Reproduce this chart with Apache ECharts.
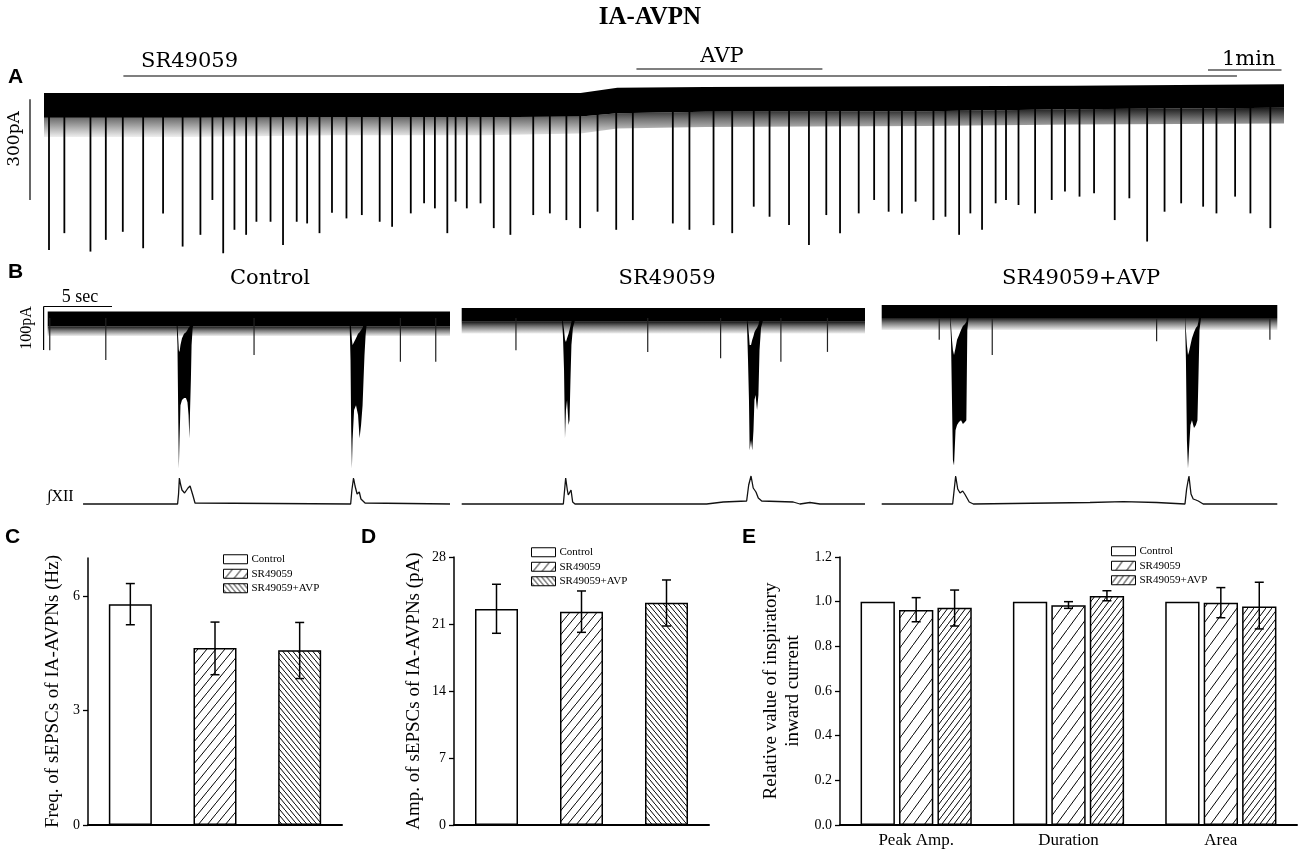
<!DOCTYPE html>
<html>
<head>
<meta charset="UTF-8">
<title>IA-AVPN</title>
<script src="https://cdn.jsdelivr.net/npm/echarts@6/dist/echarts.min.js"></script>
<style>body{margin:0;background:#fff;}</style>
</head>
<body>
<div id="main" style="width:1300px;height:855px;"></div>
<script type="text/javascript">
// ---- A: long recording (time in min, current in pA) ----
var traceLenA = 16.87;
var spikeT = [0.068,0.277,0.632,0.841,1.072,1.349,1.620,1.886,2.128,2.291,2.438,2.591,2.750,2.890,3.082,3.252,3.438,3.580,3.748,3.918,
  4.115,4.324,4.567,4.736,4.990,5.171,5.318,5.487,5.600,5.752,5.939,6.119,6.345,6.656,6.882,7.107,7.294,7.531,7.785,8.011,
  8.555,8.781,9.109,9.363,9.656,9.871,10.136,10.407,10.643,10.830,11.084,11.294,11.491,11.672,11.858,12.101,12.264,12.450,12.603,12.762,
  12.947,13.088,13.258,13.484,13.710,13.890,14.088,14.286,14.567,14.766,15.008,15.245,15.471,15.770,15.951,16.205,16.413,16.684];
var spikeAmp = [-432,-382,-437,-402,-378,-427,-323,-422,-387,-283,-442,-372,-387,-348,-348,-417,-348,-353,-382,-321,
  -338,-328,-348,-363,-323,-293,-308,-382,-288,-308,-293,-367,-387,-328,-323,-343,-367,-318,-372,-343,
  -353,-372,-358,-382,-303,-333,-358,-417,-328,-382,-323,-283,-318,-323,-288,-343,-333,-387,-323,-372,
  -293,-283,-298,-323,-283,-258,-273,-263,-343,-278,-407,-318,-293,-303,-323,-273,-323,-367];
var bandT = [0, 2, 4, 6, 7.3, 7.8, 9, 12, 14, 16.87];
var bandHi = [36, 36, 36, 36, 36, 52, 54, 56, 58, 62];
var bandLo = [-38, -38, -36, -36, -34, -24, -20, -18, -12, -8];
var fringeLo = [-95, -95, -90, -90, -85, -70, -65, -62, -58, -55];
var drugNames = ['SR49059', 'AVP'];
var drugStart = [1.08, 8.06];
var drugEnd = [16.23, 10.59];

// ---- B: 30 s sweeps (time in s, current in pA, integrated XII in a.u.) ----
var bTraceLen = [29.36, 29.44, 28.88];
var ctlBandHi = 15, ctlBandLo = -20, ctlFringe = -42;
var srBandHi = 23, srBandLo = -9, srFringe = -36;
var avpBandHi = 30, avpBandLo = 0, avpFringe = -28;

var ctlBurst1T = [9.40,9.47,9.53,9.57,9.62,9.69,9.80,9.95,10.09,10.20,10.28,10.34,10.39,10.45,10.50,10.58,10.75];
var ctlBurst1Top = [0,-16,-51,-75,-79,-63,-47,-37,-33,-28,-23,-21,-16,-9,0,0,0];
var ctlBurst1Bot = [-5,-63,-238,-350,-284,-203,-191,-186,-186,-196,-226,-280,-214,-144,-63,-23,-5];
var ctlBurst2T = [22.03,22.10,22.15,22.20,22.25,22.36,22.50,22.65,22.76,22.87,22.98,23.05,23.12,23.20,23.31];
var ctlBurst2Top = [0,-9,-28,-51,-63,-56,-47,-37,-33,-28,-23,-16,-9,0,0];
var ctlBurst2Bot = [-5,-98,-261,-350,-284,-214,-203,-226,-280,-249,-203,-144,-86,-40,-5];
var ctlXiiT = [2.58,9.48,9.55,9.61,9.69,9.80,9.99,10.09,10.24,10.39,10.51,10.61,10.75,22.11,22.20,22.32,22.43,22.58,22.74,22.86,23.16,29.36];
var ctlXiiV = [0,0,10,26,20,14,11,13,16,18,20,8,1,0,14,26,18,10,12,5,1,0];
var ctlEvT = [0.15, 4.24, 15.06, 25.74, 28.32];
var ctlEvI = [-75, -98, -86, -102, -102];

var srBurst1T = [7.32,7.39,7.47,7.54,7.61,7.69,7.80,7.87,7.94,8.01,8.12,8.27];
var srBurst1Top = [0,-9,-28,-51,-56,-47,-37,-28,-19,-9,5,5];
var srBurst1Bot = [-5,-40,-121,-280,-214,-191,-249,-238,-144,-63,-23,-5];
var srBurst2T = [20.82,20.90,20.97,21.02,21.12,21.21,21.30,21.37,21.45,21.56,21.66,21.74,21.85,22.00];
var srBurst2Top = [0,-16,-40,-63,-63,-51,-42,-33,-28,-23,-16,-5,5,5];
var srBurst2Bot = [-9,-98,-191,-308,-284,-308,-261,-191,-179,-214,-179,-75,-23,-5];
var srXiiT = [0,7.42,7.59,7.71,7.78,7.98,8.10,8.27,17.88,19.09,20.80,20.95,21.12,21.28,21.48,21.65,21.90,24.20,24.69,25.42,26.15,29.44];
var srXiiV = [0,0,26,14,9,14,2,0,0,2,3,19,28,16,12,6,3,2,0,1.5,0,0];
var srEvT = [3.96, 13.58, 18.90, 23.30, 26.70];
var srEvI = [-75, -79, -94, -102, -79];

var avpBurst1T = [4.99,5.06,5.13,5.20,5.28,5.39,5.50,5.64,5.79,5.93,6.08,6.18,6.25,6.34];
var avpBurst1Top = [7,-16,-51,-75,-86,-70,-51,-40,-28,-19,-14,-9,7,7];
var avpBurst1Bot = [0,-51,-191,-331,-343,-261,-249,-242,-238,-247,-242,-238,-28,0];
var avpBurst2T = [22.14,22.21,22.28,22.36,22.43,22.54,22.65,22.80,22.94,23.05,23.12,23.20,23.31];
var avpBurst2Top = [7,-28,-63,-86,-79,-63,-47,-33,-23,-19,-9,7,7];
var avpBurst2Bot = [0,-98,-284,-350,-308,-249,-238,-256,-249,-238,-144,-28,0];
var avpXiiT = [0,5.18,5.40,5.55,5.72,5.91,6.06,6.20,6.39,6.69,15.20,17.64,20.07,22.14,22.26,22.43,22.58,22.74,22.94,23.11,23.47,28.88];
var avpXiiV = [0,0,28,15,11,13,10,11,2,0,1.5,2.3,1.5,0,15,28,10,5,4,3,0,0];
var avpEvT = [4.20, 8.07, 20.07, 28.34];
var avpEvI = [-51, -86, -54, -51];

// ---- C, D, E: group means with error bars ----
var groups = ['Control', 'SR49059', 'SR49059+AVP'];
var cVal = [5.79, 4.64, 4.58];
var cLo = [5.25, 3.94, 3.84];
var cHi = [6.33, 5.32, 5.31];
var dVal = [22.57, 22.29, 23.23];
var dLo = [20.03, 20.13, 20.79];
var dHi = [25.15, 24.45, 25.60];
var eCats = ['Peak Amp.', 'Duration', 'Area'];
var eControl = [1.0, 1.0, 1.0];
var eSR = [0.963, 0.984, 0.995];
var eSRlo = [0.910, 0.970, 0.928];
var eSRhi = [1.018, 1.000, 1.063];
var eAVP = [0.973, 1.025, 0.978];
var eAVPlo = [0.891, 1.004, 0.878];
var eAVPhi = [1.052, 1.049, 1.087];

// hatch tiles
function hatch(w, h, forward, lw) {
  var c = document.createElement('canvas');
  c.width = w; c.height = h;
  var g = c.getContext('2d');
  g.fillStyle = '#fff'; g.fillRect(0, 0, w, h);
  g.strokeStyle = '#000'; g.lineWidth = lw;
  g.beginPath();
  for (var k = -1; k <= 1; k++) {
    if (forward) { g.moveTo(0, h + k * h); g.lineTo(w, k * h); }
    else { g.moveTo(0, k * h); g.lineTo(w, h + k * h); }
  }
  g.stroke();
  return { image: c, repeat: 'repeat' };
}
var patSR = hatch(9, 11, true, 1);
var patAVP = hatch(5, 6, false, 1);
var patSRe = hatch(11, 15, true, 1);
var patAVPe = hatch(6, 8, true, 1);

var serif = 'Liberation Serif';
function fade() {
  return new echarts.graphic.LinearGradient(0, 0, 0, 1, [
    { offset: 0, color: '#1a1a1a' }, { offset: 0.4, color: '#777' }, { offset: 1, color: '#eee' }]);
}

function bandSeries(gi, ts, lo, hi, fill, z) {
  return {
    type: 'custom', xAxisIndex: gi, yAxisIndex: gi, silent: true, z: z,
    data: [[ts[0], lo[0]]],
    renderItem: function (p, api) {
      var pts = [];
      for (var i = 0; i < ts.length; i++) pts.push(api.coord([ts[i], hi[i]]));
      for (var j = ts.length - 1; j >= 0; j--) pts.push(api.coord([ts[j], lo[j]]));
      return { type: 'polygon', shape: { points: pts }, style: { fill: fill } };
    }
  };
}
function spikeSeries(gi, ts, amps, w, color) {
  return {
    type: 'custom', xAxisIndex: gi, yAxisIndex: gi, silent: true, z: 3,
    data: ts.map(function (t, i) { return [t, amps[i]]; }),
    renderItem: function (p, api) {
      var a = api.coord([api.value(0), 0]);
      var b = api.coord([api.value(0), api.value(1)]);
      return { type: 'line', shape: { x1: a[0], y1: a[1], x2: b[0], y2: b[1] }, style: { stroke: color, lineWidth: w } };
    }
  };
}
function xiiSeries(gi, ts, vs) {
  return {
    type: 'line', xAxisIndex: gi, yAxisIndex: gi, symbol: 'none', silent: true,
    data: ts.map(function (t, i) { return [t, vs[i]]; }),
    lineStyle: { color: '#111', width: 1.3 }
  };
}
function errSeries(gi, lo, hi, k) {
  var data = lo.map(function (l, i) { return [i, l, hi[i]]; });
  return {
    type: 'custom', xAxisIndex: gi, yAxisIndex: gi, silent: true, z: 6,
    data: data,
    renderItem: function (p, api) {
      var off = 0;
      if (k !== null) {
        var band = api.size([1, 0])[0];
        var bw = band * (1 - 0.27) / (3 + 2 * 0.12);
        off = (k - 1) * bw * 1.12;
      }
      var a = api.coord([api.value(0), api.value(1)]);
      var b = api.coord([api.value(0), api.value(2)]);
      var x = a[0] + off, cap = 4.5;
      var st = { stroke: '#000', lineWidth: 1.5 };
      return {
        type: 'group', children: [
          { type: 'line', shape: { x1: x, y1: a[1], x2: x, y2: b[1] }, style: st },
          { type: 'line', shape: { x1: x - cap, y1: a[1], x2: x + cap, y2: a[1] }, style: st },
          { type: 'line', shape: { x1: x - cap, y1: b[1], x2: x + cap, y2: b[1] }, style: st }
        ]
      };
    }
  };
}
function singleBar(gi, name, vals, idx, fill) {
  var d = vals.map(function (v, i) { return i === idx ? v : null; });
  return {
    type: 'bar', name: name, xAxisIndex: gi, yAxisIndex: gi, data: d, barWidth: 43, barGap: '-100%',
    itemStyle: { color: fill, borderColor: '#000', borderWidth: 1.5 }, silent: true
  };
}
function eBar(name, vals, fill) {
  return {
    type: 'bar', name: name, xAxisIndex: 10, yAxisIndex: 10, data: vals,
    barCategoryGap: '27%', barGap: '12%', silent: true,
    itemStyle: { color: fill, borderColor: '#000', borderWidth: 1.5 }
  };
}

function hx(max) { return { type: 'value', min: 0, max: max, show: false }; }
function hy(min, max, inv) { return { type: 'value', min: min, max: max, show: false, inverse: !!inv }; }

function valueY(gi, max, interval, custom, name, gap, fmt) {
  return {
    type: 'value', gridIndex: gi, min: 0, max: max, interval: interval,
    name: name, nameLocation: 'middle', nameGap: gap, nameRotate: 90,
    nameTextStyle: { fontFamily: serif, fontSize: 19, color: '#000', lineHeight: 22 },
    axisLine: { show: true, lineStyle: { color: '#000', width: 1.5 } },
    axisTick: { show: true, inside: false, length: 5, lineStyle: { color: '#000', width: 1.3 }, customValues: custom },
    axisLabel: { fontFamily: serif, fontSize: 14, color: '#000', margin: 8, customValues: custom, formatter: fmt },
    splitLine: { show: false }
  };
}
function catX(gi, cats, showLabel) {
  return {
    type: 'category', gridIndex: gi, data: cats,
    axisLine: { show: true, lineStyle: { color: '#000', width: 2 } },
    axisTick: { show: false },
    axisLabel: { show: showLabel, fontFamily: serif, fontSize: 17, color: '#000', margin: 7 },
    splitLine: { show: false }
  };
}

var grids = [
  { left: 44, top: 85, width: 1240, height: 181 },
  { left: 44, top: 40, width: 1240, height: 40 },
  { left: 47.7, top: 290, width: 402.3, height: 187 },
  { left: 461.7, top: 290, width: 403.3, height: 187 },
  { left: 881.7, top: 290, width: 395.6, height: 187 },
  { left: 47.7, top: 474, width: 402.3, height: 32 },
  { left: 461.7, top: 474, width: 403.3, height: 32 },
  { left: 881.7, top: 474, width: 395.6, height: 32 },
  { left: 88, top: 558, width: 254, height: 267 },
  { left: 454, top: 557, width: 255, height: 268 },
  { left: 840, top: 557, width: 457, height: 268 }
];

var xAxes = [hx(traceLenA), hx(traceLenA), hx(bTraceLen[0]), hx(bTraceLen[1]), hx(bTraceLen[2]),
  hx(bTraceLen[0]), hx(bTraceLen[1]), hx(bTraceLen[2]),
  catX(8, groups, false), catX(9, groups, false), catX(10, eCats, true)];
var yAxes = [hy(-480, 60), hy(0, 40, true), hy(-370, 65), hy(-370, 65), hy(-370, 65),
  hy(-2, 30), hy(-2, 30), hy(-2, 30),
  valueY(8, 7, 3, [0, 3, 6], 'Freq. of sEPSCs of IA-AVPNs (Hz)', 24),
  valueY(9, 28, 7, [0, 7, 14, 21, 28], 'Amp. of sEPSCs of IA-AVPNs (pA)', 29),
  valueY(10, 1.2, 0.2, [0, 0.2, 0.4, 0.6, 0.8, 1.0, 1.2], 'Relative value of inspiratory\ninward current', 36,
    function (v) { return v.toFixed(1); })];
for (var i = 0; i < 8; i++) { xAxes[i].gridIndex = i; yAxes[i].gridIndex = i; }

var series = [];
// A
series.push(bandSeries(0, bandT, fringeLo, bandLo, fade(), 2));
series.push(bandSeries(0, bandT, bandLo, bandHi, '#000', 3));
series.push(spikeSeries(0, spikeT, spikeAmp, 1.8, '#000'));
var lanes = [36, 29];
drugNames.forEach(function (n, i) {
  series.push({
    type: 'line', xAxisIndex: 1, yAxisIndex: 1, symbol: 'none', silent: true,
    data: [[drugStart[i], lanes[i]], [drugEnd[i], lanes[i]]],
    lineStyle: { color: '#000', width: 1.1 }
  });
});
// B traces
function bTraces(gi, len, hi, lo, fr, bursts, evT, evI, xT, xV) {
  var ts = [0, len];
  series.push(bandSeries(gi, ts, [fr, fr], [lo, lo], fade(), 2));
  series.push(bandSeries(gi, ts, [lo, lo], [hi, hi], '#000', 3));
  series.push(spikeSeries(gi, evT, evI, 1.2, '#222'));
  bursts.forEach(function (b) { series.push(bandSeries(gi, b[0], b[2], b[1], '#000', 4)); });
  series.push(xiiSeries(gi + 3, xT, xV));
}
bTraces(2, bTraceLen[0], ctlBandHi, ctlBandLo, ctlFringe,
  [[ctlBurst1T, ctlBurst1Top, ctlBurst1Bot], [ctlBurst2T, ctlBurst2Top, ctlBurst2Bot]], ctlEvT, ctlEvI, ctlXiiT, ctlXiiV);
bTraces(3, bTraceLen[1], srBandHi, srBandLo, srFringe,
  [[srBurst1T, srBurst1Top, srBurst1Bot], [srBurst2T, srBurst2Top, srBurst2Bot]], srEvT, srEvI, srXiiT, srXiiV);
bTraces(4, bTraceLen[2], avpBandHi, avpBandLo, avpFringe,
  [[avpBurst1T, avpBurst1Top, avpBurst1Bot], [avpBurst2T, avpBurst2Top, avpBurst2Bot]], avpEvT, avpEvI, avpXiiT, avpXiiV);
// C
series.push(singleBar(8, 'Control', cVal, 0, '#fff'));
series.push(singleBar(8, 'SR49059', cVal, 1, patSR));
series.push(singleBar(8, 'SR49059+AVP', cVal, 2, patAVP));
series.push(errSeries(8, cLo, cHi, null));
// D
series.push(singleBar(9, 'Control ', dVal, 0, '#fff'));
series.push(singleBar(9, 'SR49059 ', dVal, 1, patSR));
series.push(singleBar(9, 'SR49059+AVP ', dVal, 2, patAVP));
series.push(errSeries(9, dLo, dHi, null));
// E
series.push(eBar('Control  ', eControl, '#fff'));
series.push(eBar('SR49059  ', eSR, patSRe));
series.push(eBar('SR49059+AVP  ', eAVP, patAVPe));
series.push(errSeries(10, eSRlo, eSRhi, 1));
series.push(errSeries(10, eAVPlo, eAVPhi, 2));

function legendAt(left, top, suffix) {
  return {
    left: left, top: top, padding: 0, orient: 'vertical', icon: 'rect', itemWidth: 24, itemHeight: 9, itemGap: 2,
    selectedMode: false,
    data: groups.map(function (g) { return g + suffix; }),
    formatter: function (n) { return n.trim(); },
    itemStyle: { borderColor: '#000', borderWidth: 1 },
    textStyle: { fontFamily: serif, fontSize: 11, color: '#000', lineHeight: 12.5, padding: [0, 0, 0, -1] }
  };
}

function txt(s, x, y, font, size, weight, align, rot) {
  return {
    type: 'text', x: x, y: y, rotation: rot || 0, silent: true,
    style: { text: s, fontFamily: font, fontSize: size, fontWeight: weight || 'normal', fill: '#000',
      align: align || 'center', verticalAlign: 'middle' }
  };
}
function seg(x1, y1, x2, y2, w) {
  return { type: 'line', silent: true, shape: { x1: x1, y1: y1, x2: x2, y2: y2 }, style: { stroke: '#000', lineWidth: w || 1.2 } };
}
var wide = 'DejaVu Serif';
var graphics = [
  txt('IA-AVPN', 650, 18, serif, 25, 'bold'),
  txt('A', 8, 77, 'Liberation Sans', 21, 'bold', 'left'),
  txt('B', 8, 272, 'Liberation Sans', 21, 'bold', 'left'),
  txt('C', 5, 537, 'Liberation Sans', 21, 'bold', 'left'),
  txt('D', 361, 537, 'Liberation Sans', 21, 'bold', 'left'),
  txt('E', 742, 537, 'Liberation Sans', 21, 'bold', 'left'),
  txt('SR49059', 141, 62, wide, 21, 'normal', 'left'),
  txt('AVP', 722, 57, wide, 21, 'normal', 'center'),
  txt('1min', 1222, 60, wide, 21, 'normal', 'left'),
  seg(1208, 70, 1281.5, 70, 1.2),
  txt('300pA', 15, 139, wide, 17, 'normal', 'center', Math.PI / 2),
  seg(30, 99.3, 30, 200, 1.2),
  txt('Control', 270, 279, wide, 21),
  txt('SR49059', 667, 279, wide, 21),
  txt('SR49059+AVP', 1081, 279, wide, 21),
  txt('5 sec', 80, 297, serif, 18),
  seg(43.6, 306.5, 112, 306.5, 1.2),
  seg(43.6, 306.5, 43.6, 350, 1.2),
  txt('100pA', 27, 328, serif, 16, 'normal', 'center', Math.PI / 2),
  txt('\u222BXII', 47, 497, serif, 16, 'normal', 'left')
];

var chart = echarts.init(document.getElementById('main'));
chart.setOption({
  backgroundColor: '#fff',
  animation: false,
  grid: grids,
  xAxis: xAxes,
  yAxis: yAxes,
  legend: [legendAt(223, 553, ''), legendAt(531, 546, ' '), legendAt(1111, 545, '  ')],
  series: series,
  graphic: graphics
});
</script>
</body>
</html>
